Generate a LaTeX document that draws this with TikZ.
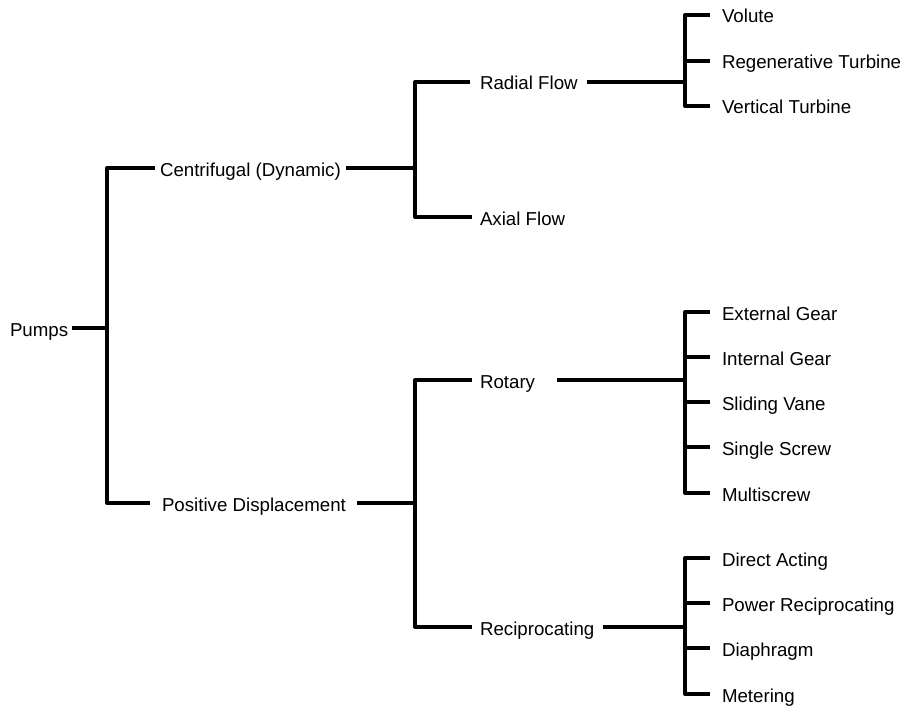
\documentclass[tikz,border=0pt]{standalone}
\usepackage{fontspec}
\setmainfont{Liberation Sans}
\begin{document}
\begin{tikzpicture}[x=1pt,y=-1pt,
  lbl/.style={anchor=west,inner sep=0pt,outer sep=0pt,text height=16pt,text depth=0pt,font=\fontsize{18.7}{21}\selectfont},
  conn/.style={line width=4pt,line join=round}]
\useasboundingbox (0,0) rectangle (902,706);
% nodes
\node[lbl] (pumps) at (10,328) {Pumps};
\node[lbl] (cen) at (160,168) {Centrifugal (Dynamic)};
\node[lbl] (pd) at (162,503) {Positive Displacement};
\node[lbl] (rad) at (480,82) {Radial Flow};
\node[lbl] (ax) at (480,217) {Axial Flow};
\node[lbl] (rot) at (480,380) {Rotary};
\node[lbl] (rec) at (480,627) {Reciprocating};
\node[lbl] (vol) at (722,15) {Volute};
\node[lbl] (reg) at (722,61) {Regenerative Turbine};
\node[lbl] (vt) at (722,106) {Vertical Turbine};
\node[lbl] (eg) at (722,312) {External Gear};
\node[lbl] (ig) at (722,357) {Internal Gear};
\node[lbl] (sv) at (722,402) {Sliding Vane};
\node[lbl] (ss) at (722,447) {Single Screw};
\node[lbl] (ms) at (722,493) {Multiscrew};
\node[lbl] (da) at (722,558) {Direct Acting};
\node[lbl] (pr) at (722,603) {Power Reciprocating};
\node[lbl] (dia) at (722,648) {Diaphragm};
\node[lbl] (met) at (722,694) {Metering};
% junctions
\coordinate (J0) at (107,328);
\coordinate (J1) at (415,168);
\coordinate (J2) at (415,503);
\coordinate (J3) at (685,82);
\coordinate (J4) at (685,380);
\coordinate (J5) at (685,627);
% connectors
\draw[conn] ([xshift=4pt]pumps.east) -- (J0);
\draw[conn] ([xshift=-5pt]cen.west) -| (J0) |- ([xshift=-12pt]pd.west);
\draw[conn] ([xshift=5pt]cen.east) -- (J1);
\draw[conn] ([xshift=-10pt]rad.west) -| (J1) |- ([xshift=-8pt]ax.west);
\draw[conn] ([xshift=11pt]pd.east) -- (J2);
\draw[conn] ([xshift=-8pt]rot.west) -| (J2) |- ([xshift=-8pt]rec.west);
\draw[conn] ([xshift=9pt]rad.east) -- (J3);
\draw[conn] ([xshift=-12pt]vol.west) -| (J3) |- ([xshift=-12pt]vt.west);
\draw[conn] ([xshift=-12pt]reg.west) -- (J3 |- reg.west);
\draw[conn] ([xshift=22pt]rot.east) -- (J4);
\draw[conn] ([xshift=-12pt]eg.west) -| (J4) |- ([xshift=-12pt]ms.west);
\draw[conn] ([xshift=-12pt]ig.west) -- (J4 |- ig.west);
\draw[conn] ([xshift=-12pt]sv.west) -- (J4 |- sv.west);
\draw[conn] ([xshift=-12pt]ss.west) -- (J4 |- ss.west);
\draw[conn] ([xshift=9pt]rec.east) -- (J5);
\draw[conn] ([xshift=-12pt]da.west) -| (J5) |- ([xshift=-12pt]met.west);
\draw[conn] ([xshift=-12pt]pr.west) -- (J5 |- pr.west);
\draw[conn] ([xshift=-12pt]dia.west) -- (J5 |- dia.west);
\end{tikzpicture}
\end{document}
